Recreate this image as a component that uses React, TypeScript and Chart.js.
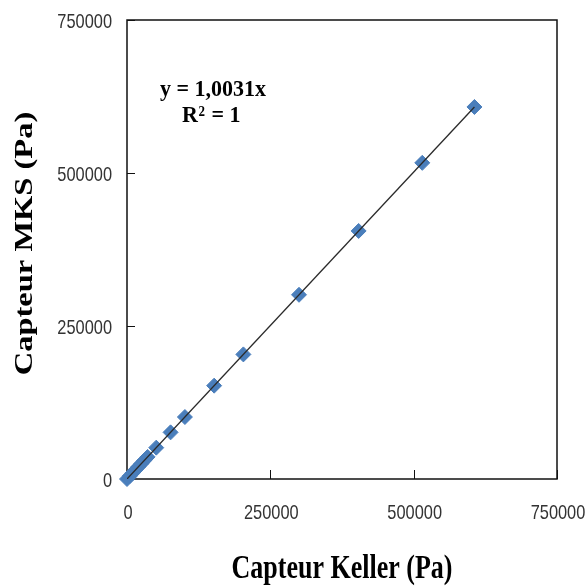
import React, { useEffect, useRef } from "react";
import { Chart, registerables } from "chart.js";

Chart.register(...registerables);

// Measured points (Pa)
const kellerPa = [0, 5000, 10000, 15000, 20000, 25000, 30000, 36000, 51000, 76000, 101000, 152000, 203000, 300000, 404000, 515000, 606000];
const mksPa = [0, 5000, 10000, 15100, 20100, 25100, 30100, 36100, 51200, 76200, 101300, 152500, 203600, 301000, 405300, 516600, 607900];

// Linear trendline (y = 1,0031x) endpoints
const trendKeller = [0, 606000];
const trendMks = [0, 607900];

const xTicks = [0, 250000, 500000, 750000];
const yTicks = [0, 250000, 500000, 750000];
const xTickLabels = ["0", "250000", "500000", "750000"];
const yTickLabels = ["0", "250000", "500000", "750000"];

const xTitle = "Capteur Keller (Pa)";
const yTitle = "Capteur MKS (Pa)";
const equationLine1 = "y = 1,0031x";
const r2Parts = ["R", "2", " = 1"];

const tickFont = "21px 'Liberation Sans', Arial, sans-serif";
const titleFont = "bold 26px 'Liberation Serif', 'Times New Roman', serif";

export default function App() {
  const ref = useRef<HTMLCanvasElement>(null);

  useEffect(() => {
    const canvas = ref.current;
    if (!canvas) return;

    const framePlugin = {
      id: "frame",
      beforeDatasetsDraw(chart: any) {
        const { ctx, chartArea: a, scales } = chart;
        ctx.save();
        ctx.strokeStyle = "#111";
        ctx.lineWidth = 1.5;
        ctx.strokeRect(a.left, a.top, a.right - a.left, a.bottom - a.top);
        ctx.lineWidth = 1;
        ctx.beginPath();
        for (const v of xTicks) {
          const px = Math.round(scales.x.getPixelForValue(v)) + 0.5;
          ctx.moveTo(px, a.bottom);
          ctx.lineTo(px, a.bottom - 9);
        }
        for (const v of yTicks) {
          const py = Math.round(scales.y.getPixelForValue(v)) + 0.5;
          ctx.moveTo(a.left, py);
          ctx.lineTo(a.left + 8, py);
        }
        ctx.stroke();
        ctx.restore();
      },
    };

    const textPlugin = {
      id: "texts",
      afterDraw(chart: any) {
        const { ctx, scales, chartArea: a } = chart;
        ctx.save();
        // tick labels (narrowed)
        ctx.fillStyle = "#333";
        ctx.font = tickFont;
        ctx.textBaseline = "alphabetic";
        xTicks.forEach((v, i) => {
          const px = scales.x.getPixelForValue(v);
          ctx.save();
          ctx.translate(px + 1, a.bottom + 40);
          ctx.scale(0.78, 1);
          ctx.textAlign = "center";
          ctx.fillText(xTickLabels[i], 0, 0);
          ctx.restore();
        });
        yTicks.forEach((v, i) => {
          const py = scales.y.getPixelForValue(v);
          ctx.save();
          ctx.translate(a.left - 15, py + 7.5);
          ctx.scale(0.78, 1);
          ctx.textAlign = "right";
          ctx.fillText(yTickLabels[i], 0, 0);
          ctx.restore();
        });

        // axis titles (stretched like the source)
        ctx.fillStyle = "#000";
        ctx.font = titleFont;
        ctx.save();
        ctx.translate((a.left + a.right) / 2, chart.height - 8);
        ctx.scale(1, 1.33);
        ctx.textAlign = "center";
        ctx.fillText(xTitle, 0, 0);
        ctx.restore();

        ctx.save();
        ctx.translate(32, (a.top + a.bottom) / 2 - 6);
        ctx.rotate(-Math.PI / 2);
        ctx.scale(1.3, 1);
        ctx.textAlign = "center";
        ctx.font = "bold 25px 'Liberation Serif', 'Times New Roman', serif";
        ctx.fillText(yTitle, 0, 0);
        ctx.restore();

        // trendline equation
        const ex = scales.x.getPixelForValue(150000);
        const base1 = scales.y.getPixelForValue(626000);
        const mainFont = "bold 22px 'Liberation Serif', serif";
        const supFont = "bold 13px 'Liberation Serif', serif";
        ctx.save();
        ctx.translate(ex, base1);
        ctx.scale(1, 1.05);
        ctx.font = mainFont;
        ctx.textAlign = "center";
        ctx.textBaseline = "alphabetic";
        ctx.fillText(equationLine1, 0, 0);
        ctx.restore();

        const base2 = base1 + 26;
        ctx.save();
        ctx.translate(ex, base2);
        ctx.scale(1, 1.05);
        ctx.textAlign = "left";
        ctx.font = mainFont;
        const wR = ctx.measureText(r2Parts[0]).width;
        const wEq = ctx.measureText(r2Parts[2]).width;
        ctx.font = supFont;
        const wSup = ctx.measureText(r2Parts[1]).width + 1;
        let cx = -2 - (wR + wSup + wEq) / 2;
        ctx.font = mainFont;
        ctx.fillText(r2Parts[0], cx, 0);
        cx += wR + 0.5;
        ctx.font = supFont;
        ctx.fillText(r2Parts[1], cx, -6);
        cx += wSup;
        ctx.font = mainFont;
        ctx.fillText(r2Parts[2], cx, 0);
        ctx.restore();
        ctx.restore();
      },
    };

    const chart = new Chart(canvas, {
      type: "scatter",
      data: {
        datasets: [
          {
            label: "Trend",
            type: "line",
            data: trendKeller.map((x, i) => ({ x, y: trendMks[i] })),
            borderColor: "#2a2a2a",
            borderWidth: 1.3,
            pointRadius: 0,
            fill: false,
            order: 0,
          } as any,
          {
            label: "Points",
            data: kellerPa.map((x, i) => ({ x, y: mksPa[i] })),
            pointStyle: "rectRot",
            pointRadius: 7.5,
            backgroundColor: "#4A7EBB",
            borderColor: "#4A7EBB",
            borderWidth: 1,
            clip: false,
            order: 1,
          } as any,
        ],
      },
      options: {
        responsive: false,
        animation: false,
        devicePixelRatio: 1,
        layout: { padding: { top: 20, right: 30, left: 0, bottom: 0 } },
        plugins: {
          legend: { display: false },
          tooltip: { enabled: false },
        },
        scales: {
          x: {
            type: "linear",
            position: "bottom",
            min: 0,
            max: 750000,
            grid: { display: false },
            border: { display: false },
            afterBuildTicks: (s: any) => {
              s.ticks = xTicks.map((v) => ({ value: v }));
            },
            afterFit: (s: any) => {
              s.height = 107;
            },
            ticks: { display: false },
            title: { display: false },
          },
          y: {
            type: "linear",
            min: 0,
            max: 750000,
            grid: { display: false },
            border: { display: false },
            afterBuildTicks: (s: any) => {
              s.ticks = yTicks.map((v) => ({ value: v }));
            },
            afterFit: (s: any) => {
              s.width = 127;
            },
            ticks: { display: false },
            title: { display: false },
          },
        },
      },
      plugins: [framePlugin, textPlugin],
    });

    return () => chart.destroy();
  }, []);

  return (
    <div style={{ position: "absolute", left: 0, top: 0, width: 587, height: 586, background: "#fff" }}>
      <canvas ref={ref} width={587} height={586} style={{ display: "block" }} />
    </div>
  );
}
